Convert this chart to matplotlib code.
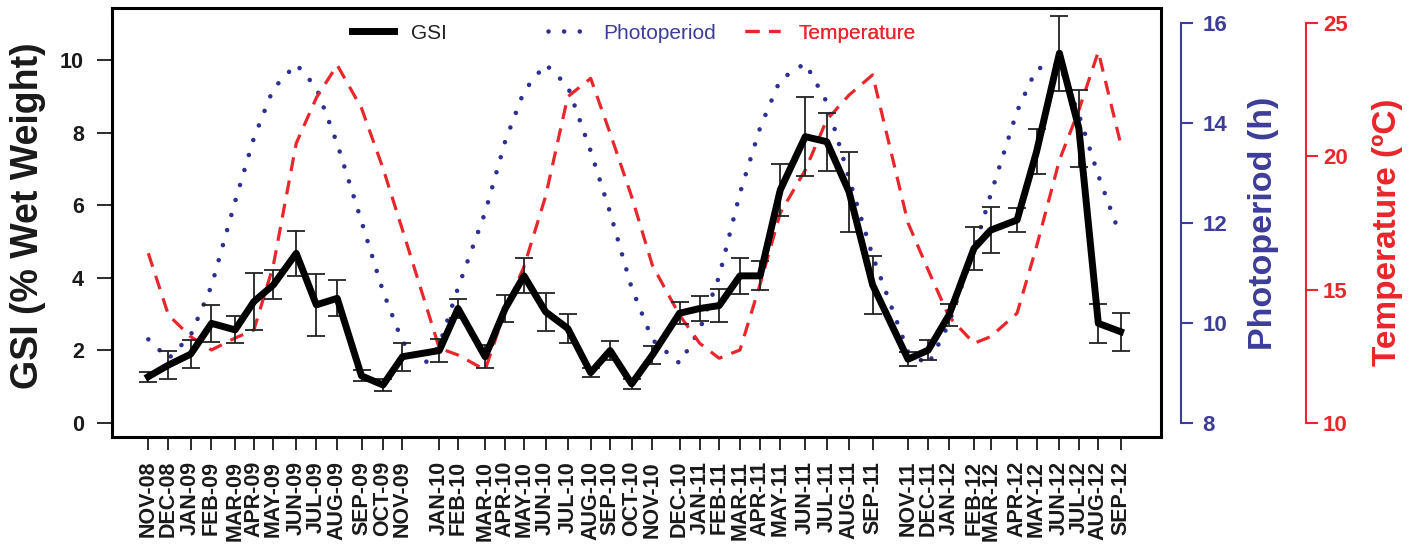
import matplotlib
matplotlib.use("Agg")
import matplotlib.pyplot as plt

# sampling months and the sampling day (days after first sample)
months = ["NOV-08", "DEC-08", "JAN-09", "FEB-09", "MAR-09", "APR-09", "MAY-09", "JUN-09",
          "JUL-09", "AUG-09", "SEP-09", "OCT-09", "NOV-09", "JAN-10", "FEB-10", "MAR-10",
          "APR-10", "MAY-10", "JUN-10", "JUL-10", "AUG-10", "SEP-10", "OCT-10", "NOV-10",
          "DEC-10", "JAN-11", "FEB-11", "MAR-11", "APR-11", "MAY-11", "JUN-11", "JUL-11",
          "AUG-11", "SEP-11", "NOV-11", "DEC-11", "JAN-12", "FEB-12", "MAR-12", "APR-12",
          "MAY-12", "JUN-12", "JUL-12", "AUG-12", "SEP-12"]
day = [0, 29, 61, 91, 125, 152, 180, 213, 242, 272, 307, 338, 366, 419, 446, 485,
       514, 541, 572, 604, 637, 665, 696, 726, 765, 794, 822, 852, 881, 910, 946, 977,
       1009, 1043, 1094, 1123, 1153, 1189, 1213, 1251, 1279, 1312, 1340, 1368, 1400]

gsi = [1.27, 1.59, 1.89, 2.74, 2.56, 3.34, 3.80, 4.67, 3.25, 3.43, 1.29, 1.04, 1.82,
       1.99, 3.15, 1.82, 3.15, 4.05, 3.06, 2.60, 1.38, 1.99, 1.07, 1.87, 3.02, 3.15,
       3.23, 4.05, 4.05, 6.42, 7.89, 7.75, 6.37, 3.80, 1.75, 2.00, 2.97, 4.81, 5.31,
       5.59, 7.47, 10.19, 8.12, 2.74, 2.51]
gsi_err = [0.14, 0.39, 0.38, 0.51, 0.37, 0.79, 0.40, 0.62, 0.86, 0.50, 0.15, 0.17, 0.39,
           0.32, 0.27, 0.32, 0.37, 0.48, 0.53, 0.41, 0.13, 0.26, 0.14, 0.24, 0.31, 0.35,
           0.45, 0.49, 0.40, 0.72, 1.08, 0.80, 1.10, 0.80, 0.20, 0.28, 0.29, 0.60, 0.63,
           0.33, 0.62, 1.04, 1.07, 0.53, 0.52]

# photoperiod has one extra reading in December 2009
photo_day = day[:13] + [398] + day[13:]
photo = [9.67, 9.28, 9.75, 10.74, 12.43, 13.70, 14.69, 15.18, 14.71, 13.59, 12.03, 10.63,
         9.62, 9.18, 9.55, 10.70, 12.21, 13.64, 14.64, 15.18, 14.74, 13.44, 12.21, 10.70,
         9.66, 9.19, 9.86, 10.93, 12.60, 13.91, 14.87, 15.20, 14.42, 12.90, 11.34, 9.42,
         9.16, 9.99, 11.46, 12.57, 14.24, 15.09, 15.18, 14.17, 12.95, 11.73]

temp = [16.36, 14.04, 13.23, 12.73, 13.18, 13.48, 15.90, 20.49, 22.20, 23.43, 21.81, 19.55,
        17.24, 12.80, 12.54, 11.98, 14.23, 15.86, 18.49, 22.24, 22.93, 20.87, 18.49, 15.90,
        14.04, 12.98, 12.42, 12.73, 15.20, 17.87, 19.49, 21.37, 22.30, 23.06, 17.50, 15.73,
        13.98, 12.98, 13.23, 14.11, 16.61, 19.86, 21.74, 23.93, 20.49]

blue = "#2f2f8f"
blue_txt = "#3d3d99"
red = "#e8262b"

plt.rcParams['font.family'] = ['Liberation Sans', 'DejaVu Sans']
plt.rcParams['font.weight'] = 'bold'

fig = plt.figure(figsize=(14.23, 5.6), dpi=100)
ax = fig.add_axes([0.0785, 0.2202, 0.7374, 0.765])
ax2 = ax.twinx()
ax3 = ax.twinx()
ax.set_zorder(3)
ax.patch.set_visible(False)

pl, = ax2.plot(photo_day, photo, color=blue, lw=3.3, linestyle=(0, (0.01, 3.4)),
               dash_capstyle='round')
tl, = ax3.plot(day, temp, color=red, lw=2.3, linestyle=(0, (4.4, 3.0)))
eb = ax.errorbar(day, gsi, yerr=gsi_err, color='black', lw=5, ecolor='#222222',
                 elinewidth=1.3, capsize=6.5, capthick=1.3)

ax.set_xlim(-52.7, 1458.3)
ax.set_ylim(-0.386, 11.43)
ax2.set_ylim(7.72, 16.30)
ax3.set_ylim(9.474, 25.56)

for s in ax.spines.values():
    s.set_linewidth(2.2)
ax.set_xticks(day, months, rotation=90, fontsize=15.5)
ax.set_yticks([0, 2, 4, 6, 8, 10])
ax.tick_params(axis='x', length=9.5, width=1.3, pad=8, colors='#1a1a1a')
ax.tick_params(axis='y', length=11, width=1.3, pad=9, labelsize=15.5, colors='#1a1a1a')
ax.set_ylabel("GSI (% Wet Weight)", fontsize=27, fontweight='bold', color='#1a1a1a')
ax.yaxis.set_label_coords(-0.0798, 0.517)
ax.yaxis.label.set_va('center')

for a, pos, lo, hi, col, txtcol, ticks in [
        (ax2, 1.0188, 8, 16, blue_txt, blue_txt, [8, 10, 12, 14, 16]),
        (ax3, 1.1379, 10, 25, red, red, [10, 15, 20, 25])]:
    for k in ['top', 'bottom', 'left']:
        a.spines[k].set_visible(False)
    a.spines['right'].set_position(('axes', pos))
    a.spines['right'].set_bounds(lo, hi)
    a.spines['right'].set_color(col)
    a.spines['right'].set_linewidth(1.5)
    a.set_yticks(ticks)
    a.tick_params(axis='y', colors=txtcol, length=8.5, width=1.5, labelsize=16)
ax2.tick_params(axis='y', pad=7)
ax3.tick_params(axis='y', pad=4)

ax2.set_ylabel("Photoperiod (h)", fontsize=24.5, fontweight='bold', color=blue_txt)
ax2.yaxis.set_label_coords(1.098, 0.499)
ax2.yaxis.label.set_va('center')
ax3.set_ylabel("Temperature (ºC)", fontsize=24, fontweight='bold', color=red)
ax3.yaxis.set_label_coords(1.2154, 0.476)
ax3.yaxis.label.set_va('center')

# legend entries placed one by one (uneven spacing as in the original)
entries = [(eb.lines[0], "GSI", '#222222', 0.229, 2.0),
           (pl, "Photoperiod", blue_txt, 0.4158, 1.8),
           (tl, "Temperature", red, 0.6036, 1.7)]
for h, lab, c, x0, hl in entries:
    leg = ax.legend([h], [lab], loc='center left', bbox_to_anchor=(x0, 0.942),
                    frameon=False, prop={'size': 15, 'weight': 'normal'},
                    handlelength=hl, handletextpad=0.85, borderpad=0, borderaxespad=0)
    leg.get_texts()[0].set_color(c)
    ax.add_artist(leg)

fig.savefig("out.png", dpi=100)
